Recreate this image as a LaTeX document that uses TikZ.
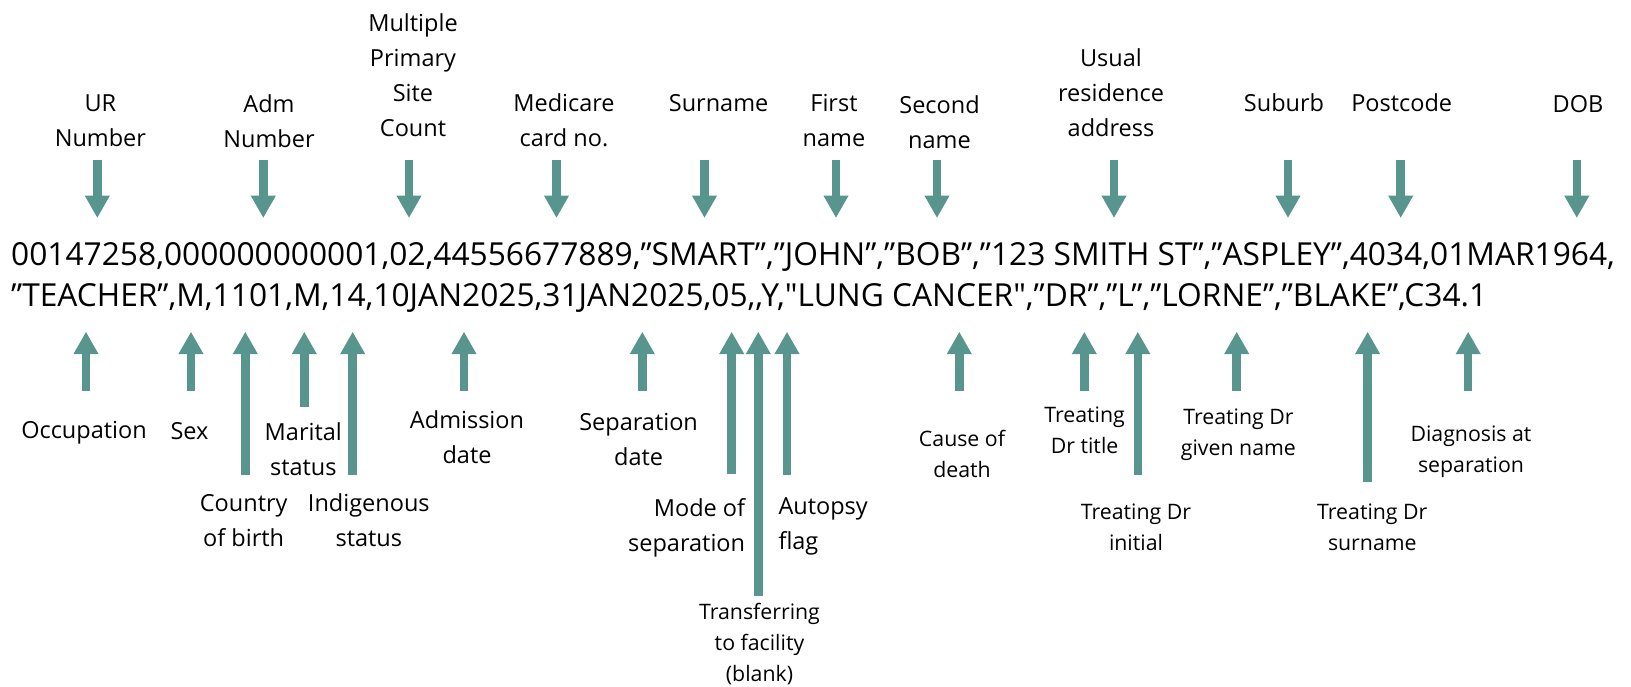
\documentclass[tikz,border=0pt]{standalone}
\usepackage{fontspec}
\setmainfont{Open Sans}
\newfontfamily\osraw[Ligatures=NoCommon]{Open Sans}
\usetikzlibrary{arrows.meta}
\definecolor{teal1}{RGB}{87,149,142}
\newcommand{\sq}{{\osraw\char"0022}}
\tikzset{
  arr/.style={draw=teal1, line width=8.5pt, -{Triangle[length=22.5pt,width=23.5pt]}, fill=teal1},
  biglab/.style={inner sep=0pt, align=center, anchor=base, font=\fontsize{23.5}{35}\selectfont},
  smalllab/.style={inner sep=0pt, align=center, anchor=base, font=\fontsize{21.3}{31}\selectfont},
  data/.style={inner sep=0pt, anchor=base west, font=\fontsize{31.7}{40}\selectfont}
}
\begin{document}
\begin{tikzpicture}[x=1pt,y=-1pt]
\useasboundingbox (0,0) rectangle (1631,686);
% data lines
\node[data] (l1) at (11,265) {00147258,000000000001,02,44556677889,”SMART”,”JOHN”,”BOB”,”123 SMITH ST”,”ASPLEY”,4034,01MAR1964,};
\node[data] (l2) at (11,306.7) {”TEACHER”,M,1101,M,14,10JAN2025,31JAN2025,05,{},Y,\sq LUNG CANCER\sq,”DR”,”L”,”LORNE”,”BLAKE”,C34.1};
% top labels (anchor = baseline of last line)
\node[biglab] (ur) at (100.4,146.7) {UR\\Number};
\node[biglab] (adm) at (269,147) {Adm\\Number};
\node[biglab] (mpsc) at (413,136.7) {Multiple\\Primary\\Site\\Count};
\node[biglab] (med) at (564,146.7) {Medicare\\card no.};
\node[biglab] (sur) at (718.6,111) {Surname};
\node[biglab] (first) at (834,146.7) {First\\name};
\node[biglab] (second) at (939.5,148.3) {Second\\name};
\node[biglab] (usual) at (1111,136.7) {Usual\\residence\\address};
\node[biglab] (suburb) at (1284,111) {Suburb};
\node[biglab] (post) at (1401.7,111) {Postcode};
\node[biglab] (dob) at (1578,112.3) {DOB};
% bottom labels
\node[biglab] (occ) at (84,438.3) {Occupation};
\node[biglab] (sex) at (189.5,439) {Sex};
\node[biglab] (cob) at (243.7,546.7) {Country\\of birth};
\node[biglab] (mar) at (303.3,475.3) {Marital\\status};
\node[biglab] (ind) at (368.8,546.7) {Indigenous\\status};
\node[biglab] (admd) at (467,463.3) {Admission\\date};
\node[biglab] (sepd) at (638.6,465) {Separation\\date};
\node[biglab, align=right, anchor=base east] (mode) at (745.3,551) {Mode of\\separation};
\node[biglab, align=left, anchor=base west] (aut) at (778.3,549.3) {Autopsy\\flag};
\node[smalllab] (trans) at (759.5,681.7) {Transferring\\to facility\\(blank)};
\node[smalllab] (cause) at (962,477.3) {Cause of\\death};
\node[smalllab] (ttitle) at (1084.6,453.3) {Treating\\Dr title};
\node[smalllab] (tinit) at (1136,550) {Treating Dr\\initial};
\node[smalllab] (tgiven) at (1238.4,455) {Treating Dr\\given name};
\node[smalllab] (tsur) at (1372.3,550) {Treating Dr\\surname};
\node[smalllab] (diag) at (1471,472.7) {Diagnosis at\\separation};
% top arrows
\foreach \n/\x in {ur/97.3, adm/263.3, mpsc/409, med/556.5, sur/704.5, first/836, second/937, usual/1114, suburb/1288, post/1400.7, dob/1576.8} {
  \coordinate (t\n) at (\x,160);
  \coordinate (h\n) at (\x,218);
  \draw[arr] (t\n) -- (h\n);
}
% bottom arrows
\foreach \n/\x/\b in {occ/86/390.7, sex/191/390.7, cob/245.3/475, mar/304.3/406.7, ind/352.7/475, admd/464/390.7, sepd/642.3/390.7, mode/731.7/474.3, trans/758.3/595.7, aut/787/475, cause/959.3/390.7, ttitle/1084.3/390.7, tinit/1137.8/475, tgiven/1236.7/391, tsur/1367.6/482.3, diag/1468.2/391} {
  \coordinate (b\n) at (\x,\b);
  \coordinate (p\n) at (\x,331.7);
  \draw[arr] (b\n) -- (p\n);
}
\end{tikzpicture}
\end{document}
